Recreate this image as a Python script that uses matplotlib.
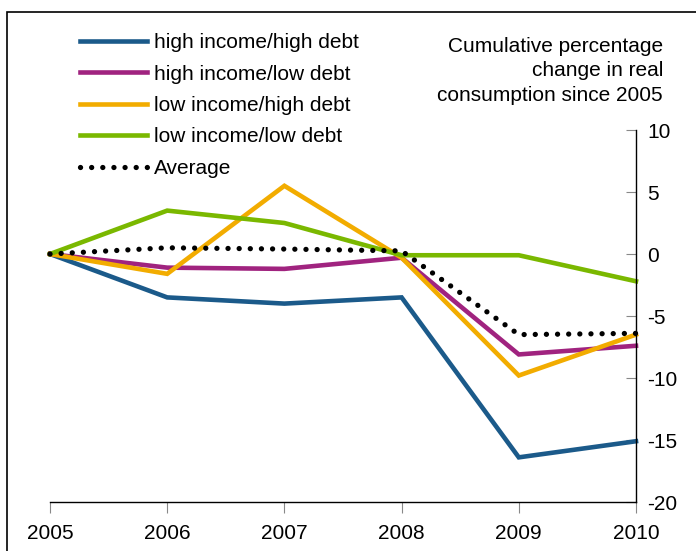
import matplotlib.pyplot as plt
from matplotlib.patches import Rectangle
from matplotlib.lines import Line2D

plt.rcParams['font.family'] = ['Liberation Sans', 'DejaVu Sans']

years = [2005, 2006, 2007, 2008, 2009, 2010]
hi_hi = [0, -3.5, -4.0, -3.5, -16.4, -15.1]
hi_lo = [0, -1.1, -1.2, -0.3, -8.1, -7.4]
lo_hi = [0, -1.6, 5.5, -0.3, -9.8, -6.5]
lo_lo = [0, 3.5, 2.5, -0.1, -0.1, -2.2]
average = [0, 0.5, 0.4, 0.25, -6.5, -6.4]

series_names = ['high income/high debt', 'high income/low debt',
                'low income/high debt', 'low income/low debt']
colors = ['#1b5a8a', '#a0237f', '#f2ac00', '#7ab800']

fig = plt.figure(figsize=(6.96, 5.51), dpi=100)
ax = fig.add_axes([50/696, 1 - 502/551, 586/696, 372/551])

for vals, c in zip([hi_hi, hi_lo, lo_hi, lo_lo], colors):
    ax.plot(years, vals, color=c, lw=3.3, solid_joinstyle='miter', clip_on=False)
ax.plot(years, average, color='black', lw=3.8, linestyle=(0, (0.01, 2.1)),
        dash_capstyle='round', clip_on=False)

ax.set_xlim(2005, 2010)
ax.set_ylim(-20, 10)
ax.set_yticks([-20, -15, -10, -5, 0, 5, 10])
ax.set_yticklabels(['-20', '-15', '-10', '-5', '0', '5', '10'])
ax.set_xticks(years)
ax.yaxis.tick_right()
for s in ['top', 'left']:
    ax.spines[s].set_visible(False)
ax.spines['bottom'].set_linewidth(1.0)
ax.spines['right'].set_linewidth(1.0)
ax.tick_params(axis='x', direction='out', length=8, color='#888888', labelsize=15, pad=8)
ax.tick_params(axis='y', direction='in', length=7, color='#888888', labelsize=15, pad=8)
ax.patch.set_visible(False)

# legend drawn in figure pixels
handles = [Line2D([], [], color=c, lw=3.3) for c in colors]
handles.append(Line2D([], [], color='black', lw=3.8, linestyle=(0, (0.01, 2.1)),
                      dash_capstyle='round'))
labels = series_names + ['Average']
leg = fig.legend(handles, labels, loc='upper left', bbox_to_anchor=(80/696, 1 - 33/551),
                 frameon=False, fontsize=15, handlelength=3.2, handletextpad=0.34,
                 labelspacing=0.6, borderaxespad=0, borderpad=0)

fig.text(663/696, 1 - 37/551, 'Cumulative percentage\nchange in real\nconsumption since 2005',
         ha='right', va='top', fontsize=15, linespacing=1.36)

fig.add_artist(Rectangle((7/696, -0.1), 1.2, 1.1 - 12/551, transform=fig.transFigure,
                         fill=False, edgecolor='black', lw=1.2))

fig.savefig('out.png', dpi=100)
